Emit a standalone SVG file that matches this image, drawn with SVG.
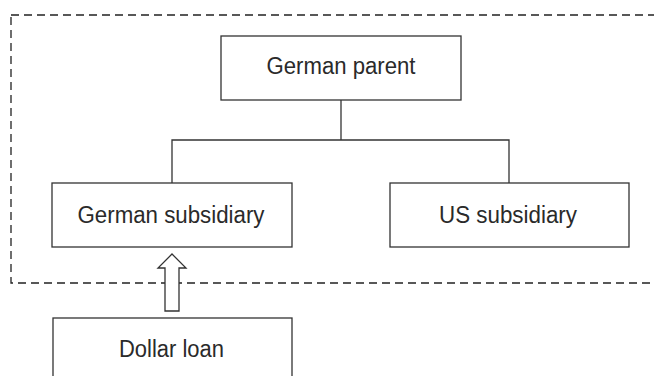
<svg xmlns="http://www.w3.org/2000/svg" width="654" height="376" viewBox="0 0 654 376">
  <style>
    .box { fill: #ffffff; stroke: #333333; stroke-width: 1.3; }
    .label { font-family: "Liberation Sans", Arial, Helvetica, sans-serif; font-size: 23.5px; fill: #2a2a2a; text-anchor: middle; }
    .link { fill: none; stroke: #333333; stroke-width: 1.3; }
    .boundary { fill: none; stroke: #222222; stroke-width: 1.3; stroke-dasharray: 8 5; }
    .flow { fill: #ffffff; stroke: #333333; stroke-width: 1.3; stroke-linejoin: miter; }
  </style>
  <rect width="654" height="376" fill="#ffffff"/>

  <!-- group boundary (open past the right edge) -->
  <rect class="boundary" x="11" y="15" width="660" height="268"/>

  <g id="connectors">
    <polyline class="link" points="341,100 341,140"/>
    <polyline class="link" points="172,183 172,140 509,140 509,183"/>
    <polygon class="flow" points="172,254 186,268 179,268 179,311 165,311 165,268 158,268"/>
  </g>

  <g id="german-parent">
    <rect class="box" x="221" y="36" width="240" height="64"/>
    <text class="label" x="341" y="74" textLength="149" lengthAdjust="spacingAndGlyphs">German parent</text>
  </g>

  <g id="german-subsidiary">
    <rect class="box" x="52" y="183" width="240" height="64"/>
    <text class="label" x="171" y="223" textLength="187" lengthAdjust="spacingAndGlyphs">German subsidiary</text>
  </g>

  <g id="us-subsidiary">
    <rect class="box" x="390" y="183" width="239" height="64"/>
    <text class="label" x="508" y="223" textLength="138" lengthAdjust="spacingAndGlyphs">US subsidiary</text>
  </g>

  <g id="dollar-loan">
    <rect class="box" x="53" y="318" width="239" height="70"/>
    <text class="label" x="171.5" y="357" textLength="105" lengthAdjust="spacingAndGlyphs">Dollar loan</text>
  </g>
</svg>
